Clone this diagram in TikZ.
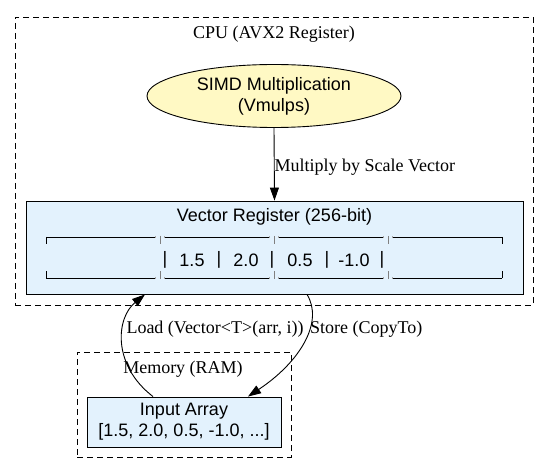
\documentclass[tikz,border=0pt]{standalone}
\usepackage{fontspec}
\setmainfont{Liberation Serif}
\newfontfamily\helv{Liberation Sans}
\usetikzlibrary{arrows.meta,calc,shapes.geometric}
\definecolor{regfill}{HTML}{E3F2FD}
\definecolor{opfill}{HTML}{FFF9C4}
\tikzset{
  cluster/.style={draw, line width=0.9pt, dash pattern=on 6pt off 4pt},
  boxnode/.style={draw, line width=0.9pt, fill=regfill, font=\helv\fontsize{18pt}{21pt}\selectfont, align=center, inner sep=0pt},
  opnode/.style={draw, ellipse, line width=0.9pt, fill=opfill, font=\helv\fontsize{18pt}{21pt}\selectfont, align=center, inner sep=0pt},
  lbl/.style={font=\fontsize{18pt}{20pt}\selectfont, inner sep=1pt},
  cell/.style={font=\helv\fontsize{18pt}{20pt}\selectfont, inner sep=0pt},
  edge/.style={line width=0.9pt, -{Triangle[length=13pt,width=9pt]}},
}
\begin{document}
\begin{tikzpicture}[x=1pt,y=-1pt]
\useasboundingbox (0,0) rectangle (549,473);
% clusters
\node[cluster, minimum width=518pt, minimum height=288pt, inner sep=0pt] (cpu) at (274,161) {};
\node[lbl] (cputitle) at (274,34) {CPU (AVX2 Register)};
\node[cluster, minimum width=214pt, minimum height=105pt, inner sep=0pt] (mem) at (184,404.5) {};
\node[lbl] (memtitle) at (183,369) {Memory (RAM)};
% nodes
\node[opnode, minimum width=254pt, minimum height=63pt] (simd) at (274,96) {SIMD Multiplication\\(Vmulps)};
\node[boxnode, minimum width=497pt, minimum height=93pt] (reg) at (274.5,247.5) {};
\node[cell] (regtitle) at (274.5,217) {Vector Register (256-bit)};
\node[boxnode, minimum width=194pt, minimum height=50pt] (input) at (184,422) {Input Array\\{}[1.5, 2.0, 0.5, -1.0, ...]};
% record inside register
\coordinate (rtl) at (46,237);
\coordinate (rbr) at (502,278);
\draw[line width=0.9pt] (rtl) -- (rtl -| rbr);
\draw[line width=0.9pt] (rtl |- rbr) -- (rbr);
\draw[line width=0.9pt] (rtl) -- ++(0,7);
\draw[line width=0.9pt] (rtl |- rbr) -- ++(0,-7);
\draw[line width=0.9pt] (rtl -| rbr) -- ++(0,7);
\draw[line width=0.9pt] (rbr) -- ++(0,-7);
\foreach \xx in {160,274,388}{
  \draw[gray!70, line width=2.5pt] (\xx-5,237) -- (\xx+5,237);
  \draw[gray!70, line width=2.5pt] (\xx-5,278) -- (\xx+5,278);
  \draw[regfill, line width=2pt] (\xx-4,237) -- (\xx+4,237);
  \draw[regfill, line width=2pt] (\xx-4,278) -- (\xx+4,278);
  \draw[gray, line width=0.8pt] (\xx,236) -- (\xx,244);
  \draw[gray, line width=0.8pt] (\xx,279) -- (\xx,271);
}
\node[cell] (p1) at (165,260) {|};
\node[cell] (c1) at (192,260) {1.5};
\node[cell] (p2) at (219,260) {|};
\node[cell] (c2) at (246,260) {2.0};
\node[cell] (p3) at (272,260) {|};
\node[cell] (c3) at (300,260) {0.5};
\node[cell] (p4) at (327,260) {|};
\node[cell] (c4) at (354,260) {-1.0};
\node[cell] (p5) at (382,260) {|};
% edges
\draw[edge] (simd.south) -- (reg.north) node[lbl, midway, anchor=west, xshift=-1pt, yshift=-3pt] (mlabel) {Multiply by Scale Vector};
\draw[edge] ($(input.north)+(-31,0)$) .. controls (112,365) and (116,318) .. ($(reg.south)+(-129.5,0)$);
\node[lbl] (loadlbl) at (215,329) {Load (Vector<T>(arr, i))};
\draw[edge] ($(reg.south)+(32.5,0)$) .. controls (324,322) and (300,362) .. ($(input.north)+(64,0)$);
\node[lbl, anchor=west] (storelbl) at (309,329) {Store (CopyTo)};
\end{tikzpicture}
\end{document}
